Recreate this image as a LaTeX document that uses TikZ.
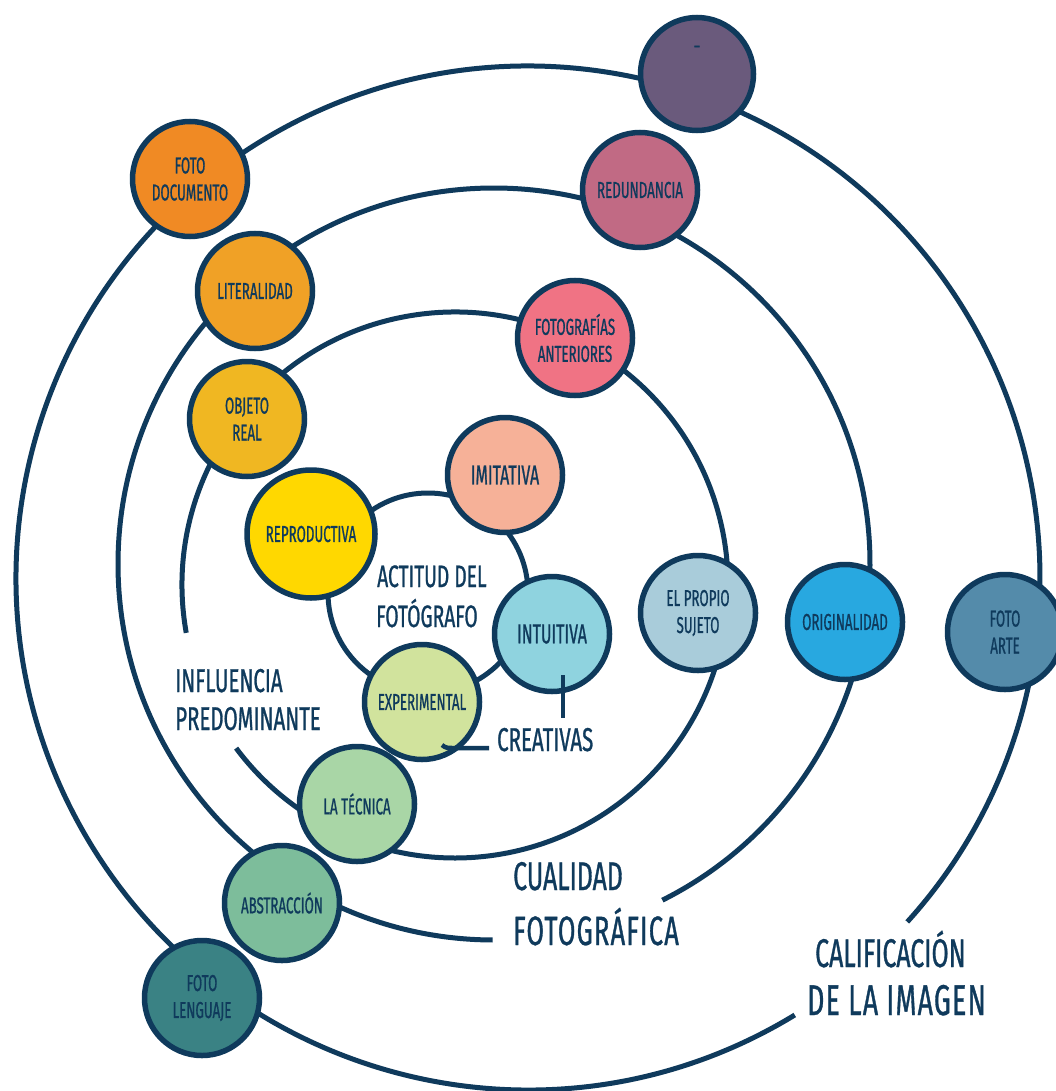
\documentclass[tikz,border=0pt]{standalone}
\usepackage{fontspec}
\newfontfamily\hand[FakeStretch=0.62,FakeBold=0.8]{Fira Sans}
\newfontfamily\handnarrow[FakeStretch=0.58,FakeBold=0.8]{Fira Sans}
\definecolor{ink}{HTML}{0F3A5C}
\definecolor{cTop}{HTML}{6A5A7C}
\definecolor{cFotoDoc}{HTML}{F08A24}
\definecolor{cLiteral}{HTML}{F0A126}
\definecolor{cObjeto}{HTML}{F0B722}
\definecolor{cRepro}{HTML}{FFD800}
\definecolor{cRedund}{HTML}{C16A84}
\definecolor{cFotoAnt}{HTML}{F07384}
\definecolor{cImit}{HTML}{F6B198}
\definecolor{cIntu}{HTML}{8FD3DF}
\definecolor{cExper}{HTML}{D1E39D}
\definecolor{cSujeto}{HTML}{A9CCDA}
\definecolor{cOrig}{HTML}{28A8E0}
\definecolor{cArte}{HTML}{548BAA}
\definecolor{cTecnica}{HTML}{A9D6A6}
\definecolor{cAbstr}{HTML}{7DBD9B}
\definecolor{cLeng}{HTML}{3A8284}
\begin{document}
\begin{tikzpicture}[x=1pt,y=-1pt,
  ring/.style={draw=ink,line width=5pt},
  bubble/.style={circle,draw=ink,line width=5.5pt,minimum size=115pt,inner sep=0pt,
    align=center,text=ink,font=\handnarrow\fontsize{23}{27}\selectfont},
  bigbubble/.style={bubble,font=\handnarrow\fontsize{27.5}{28}\selectfont},
  ringtext/.style={anchor=base west,inner sep=0pt,text=ink,font=\hand\fontsize{31}{36}\selectfont},
  midtext/.style={ringtext,font=\hand\fontsize{33}{38}\selectfont},
  outertext/.style={ringtext,font=\hand\fontsize{40}{46}\selectfont},
  tick/.style={draw=ink,line width=4.5pt}]
\fill[white] (0,0) rectangle (1055,1091);
\useasboundingbox (0,0) rectangle (1055,1091);

% concentric rings (image coordinates, y pointing down)
\draw[ring] (428,593) circle[radius=100];
\draw[ring] (455,585) ++(169.9:273) arc[start angle=169.9,end angle=503.3,radius=273];
\draw[ring] (494,564) ++(90.2:376) arc[start angle=90.2,end angle=423.4,radius=376];
\draw[ring] (528,578) ++(58.6:512) arc[start angle=58.6,end angle=402.2,radius=512];

% outer ring
\node[bubble,fill=cTop,minimum size=113pt] (top) at (697,74) {};
\node[text=ink,font=\hand\fontsize{18}{18}\selectfont,inner sep=0pt] (topmark) at (697,49) {–};
\node[bubble,fill=cFotoDoc] (fotodoc) at (190,179) {FOTO\\DOCUMENTO};
\node[bubble,fill=cArte] (arte) at (1005,632) {FOTO\\ARTE};
\node[bubble,fill=cLeng] (lenguaje) at (202,998) {FOTO\\LENGUAJE};

% third ring
\node[bubble,fill=cLiteral] (literal) at (255,291) {LITERALIDAD};
\node[bubble,fill=cRedund] (redund) at (640,190) {REDUNDANCIA};
\node[bubble,fill=cOrig] (orig) at (845,622) {ORIGINALIDAD};
\node[bubble,fill=cAbstr] (abstr) at (282,903) {ABSTRACCIÓN};

% second ring
\node[bubble,fill=cObjeto] (objeto) at (247,419) {OBJETO\\REAL};
\node[bubble,fill=cFotoAnt] (fotoant) at (575,338) {FOTOGRAFÍAS\\ANTERIORES};
\node[bubble,fill=cSujeto] (sujeto) at (698,613) {EL PROPIO\\SUJETO};
\node[bubble,fill=cTecnica] (tecnica) at (357,804) {LA TÉCNICA};

% inner ring
\node[bubble,fill=cRepro,minimum size=128pt] (repro) at (311,534) {REPRODUCTIVA};
\node[bigbubble,fill=cImit] (imit) at (505,475) {IMITATIVA};
\node[bigbubble,fill=cIntu] (intu) at (552,634) {INTUITIVA};
\node[bubble,fill=cExper] (exper) at (422,702) {EXPERIMENTAL};

% bracket for the creative attitudes
\coordinate (ci1) at (563,675);
\coordinate (ci2) at (563,718);
\coordinate (ce1) at (442,745);
\coordinate (ce2) at (489,748);
\draw[tick] (ci1) -- (ci2);
\draw[tick] (ce1) .. controls (446,748) .. (455,748) -- (ce2);
\node[ringtext,font=\hand\fontsize{33}{38}\selectfont] (creat) at (497,751) {CREATIVAS};

% ring captions
\node[ringtext] (act1) at (377,587) {ACTITUD DEL};
\node[ringtext] (act2) at (376,627) {FOTÓGRAFO};
\node[midtext] (infl1) at (175,692) {INFLUENCIA};
\node[midtext] (infl2) at (175,730) {PREDOMINANTE};
\node[outertext] (cual1) at (513,890) {CUALIDAD};
\node[outertext,font=\hand\fontsize{41}{46}\selectfont\addfontfeature{LetterSpace=3}] (cual2) at (513,945) {FOTOGRÁFICA};
\node[outertext] (calif1) at (815,967) {CALIFICACIÓN};
\node[outertext,font=\hand\fontsize{43}{46}\selectfont\addfontfeature{LetterSpace=3}] (calif2) at (807,1015) {DE LA IMAGEN};
\end{tikzpicture}
\end{document}
